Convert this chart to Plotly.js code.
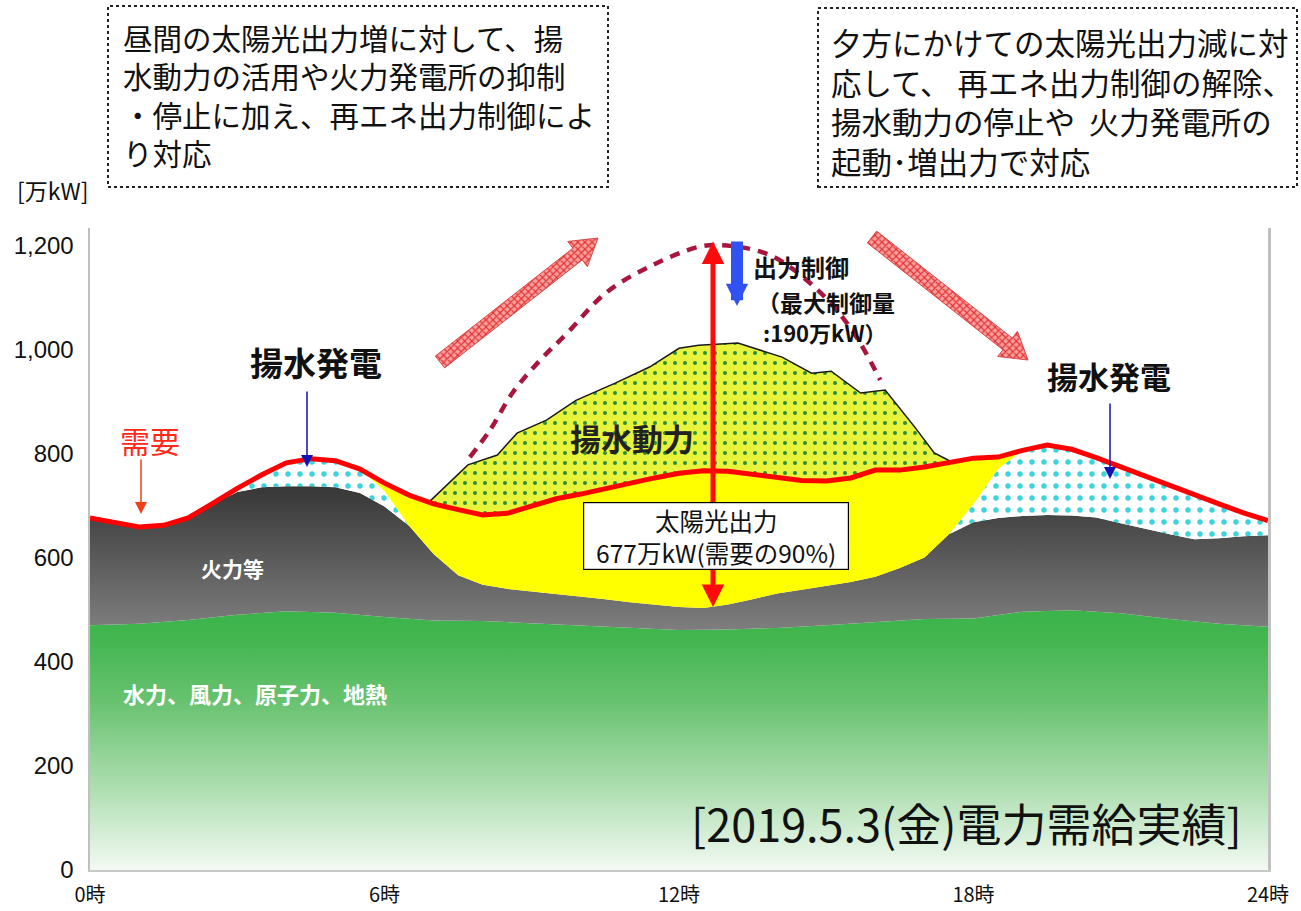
<!DOCTYPE html>
<html><head><meta charset="utf-8">
<script src="https://cdn.plot.ly/plotly-3.0.1.min.js"></script>
<style>html,body{margin:0;padding:0;background:#fff}#chart{width:1301px;height:911px}</style>
</head><body><div id="chart"></div>
<script>
// ---- data (万kW) ----
const hours = [0,0.5,1,1.5,2,2.5,3,3.5,4,4.5,5,5.5,6,6.5,7,7.5,8,8.5,9,9.5,10,10.5,11,11.5,12,12.5,13,13.5,14,14.5,15,15.5,16,16.5,17,17.5,18,18.5,19,19.5,20,20.5,21,21.5,22,22.5,23,23.5,24];
// 需要 (demand)
const demand = [676,667,659,662,676,704,733,759,782,790,786,770,743,720,703,692,682,685,698,713,722,733,743,753,762,767,766,760,755,748,747,753,768,768,774,783,791,793,806,816,808,792,774,757,737,719,703,686,671];
// top of 火力等 (thermal etc.) stack
const thermalTop = [676,667,659,662,676,703,726,735,737,737,735,724,698,661,607,566,548,540,535,531,526,520,514,510,505,503,510,520,531,538,545,553,563,580,600,645,668,676,680,682,681,677,666,655,645,635,637,641,643];
// top of 揚水発電 (pumped-storage generation) stack
const pumpGenTop = [676,667,659,662,676,704,733,759,782,790,786,770,728,661,607,566,548,540,535,531,526,520,514,510,505,503,510,520,531,538,545,553,563,580,600,645,703,770,806,816,808,792,774,757,737,719,703,686,671];
// top of 水力、風力、原子力、地熱 (base) stack
const baseHours = [0,1,2,3,4,5,6,7,8,9,10,11,12,13,14,15,16,17,18,19,20,21,22,23,24];
const baseTop = [470,473,480,490,497,494,486,479,478,474,469,465,461,462,465,470,476,482,483,496,499,493,482,473,467];
// demand + 揚水動力 (pumping load) outline
const pumpHours = [6.9,7.7,8.3,8.7,9.3,9.9,10.7,11.4,12.0,12.4,13.2,14.1,14.7,15.1,15.7,16.2,16.8,17.2,17.55];
const pumpTop = [706,778,797,839,864,902,935,966,1002,1008,1012,985,954,958,916,922,851,801,784];
// dashed curve: output before 出力制御
const curtailHours = [7.74,8.15,8.62,9.17,9.72,10.53,11.47,12.37,12.84,13.85,14.87,15.55,16.10];
const curtailValues = [793,845,918,979,1031,1110,1162,1196,1200,1181,1110,1033,941];
// ticks
const xTickVals = [0,6,12,18,24];
const xTickText = ['0時','6時','12時','18時','24時'];
const yTickVals = [0,200,400,600,800,1000,1200];
const yTickText = ['0','200','400','600','800','1,000','1,200'];

// ---- layout geometry ----
const W = 1301, H = 911;
const M = {l:90, r:33, t:228, b:41};
const PW = W - M.l - M.r, PH = H - M.t - M.b;
const XR = [0,24], YR = [0,1233];
const JP = '"Noto Sans CJK JP", "Noto Sans", sans-serif';
// pixel -> paper
const PX = p => (p - M.l) / PW;
const PY = p => (H - M.b - p) / PH;
// pixel -> data (for decorative arrow polygons)
const DX = p => XR[0] + (p - M.l) / PW * (XR[1]-XR[0]);
const DY = p => YR[0] + (H - M.b - p) / PH * (YR[1]-YR[0]);

// pump base: demand within the pumping interval
const inside = hours.map((h,i)=>i).filter(i => hours[i] > pumpHours[0] && hours[i] < pumpHours[pumpHours.length-1]);
const pumpBaseX = [pumpHours[0], ...inside.map(i=>hours[i]), pumpHours[pumpHours.length-1]];
const pumpBaseY = [pumpTop[0], ...inside.map(i=>demand[i]), pumpTop[pumpTop.length-1]];

function blockArrow(x0,y0,x1,y1,shaftW,headW,headL){
  const dx=x1-x0, dy=y1-y0, L=Math.hypot(dx,dy);
  const ux=dx/L, uy=dy/L, nx=-uy, ny=ux;
  const bx=x1-ux*headL, by=y1-uy*headL;
  const pts=[
    [x0+nx*shaftW/2, y0+ny*shaftW/2],
    [bx+nx*shaftW/2, by+ny*shaftW/2],
    [bx+nx*headW/2, by+ny*headW/2],
    [x1,y1],
    [bx-nx*headW/2, by-ny*headW/2],
    [bx-nx*shaftW/2, by-ny*shaftW/2],
    [x0-nx*shaftW/2, y0-ny*shaftW/2],
    [x0+nx*shaftW/2, y0+ny*shaftW/2]
  ];
  return {x: pts.map(p=>DX(p[0])), y: pts.map(p=>DY(p[1]))};
}
const arrL = blockArrow(440,362,598,238,15,32,26);
const arrR = blockArrow(872,237,1028,360,15,32,26);
const hatch = {shape:'x', bgcolor:'#f9a09e', fgcolor:'#e23030', size:5, solidity:0.4};

const traces = [
  {x: baseHours, y: baseTop, mode:'lines', line:{width:0}, fill:'tozeroy',
   fillgradient:{type:'vertical', start:0, stop:500,
     colorscale:[[0,'#f3faf3'],[0.34,'#a8dcab'],[0.65,'#68c270'],[0.88,'#44b651'],[1,'#3ab449']]},
   hoverinfo:'skip'},
  {x: hours, y: thermalTop, mode:'lines', line:{width:0}, fill:'tonexty',
   fillgradient:{type:'vertical', start:470, stop:740, colorscale:[[0,'#7c7c7c'],[1,'#363636']]},
   hoverinfo:'skip'},
  {x: hours, y: pumpGenTop, mode:'lines', line:{width:0}, fill:'tonexty', fillcolor:'#ffffff',
   fillpattern:{shape:'.', bgcolor:'#ffffff', fgcolor:'#3cd4dc', size:12, solidity:0.16},
   hoverinfo:'skip'},
  {x: hours, y: demand, mode:'lines', line:{width:0}, fill:'tonexty', fillcolor:'#ffff00', hoverinfo:'skip'},
  {x: pumpBaseX, y: pumpBaseY, mode:'lines', line:{width:0}, hoverinfo:'skip'},
  {x: pumpHours, y: pumpTop, mode:'lines', line:{color:'#1a1a1a', width:1.5}, fill:'tonexty', fillcolor:'#e8f43c',
   fillpattern:{shape:'.', bgcolor:'#e8f43c', fgcolor:'#2f8f34', size:10, solidity:0.13},
   hoverinfo:'skip'},
  {x: curtailHours, y: curtailValues, mode:'lines', line:{color:'#a8163e', width:4.5, dash:'10px,8px', shape:'spline'}, hoverinfo:'skip'},
  {x: hours, y: demand, mode:'lines', line:{color:'#ff0000', width:5}, hoverinfo:'skip'},
  {x: arrL.x, y: arrL.y, mode:'lines', line:{color:'#d84848', width:1}, fill:'toself', fillcolor:'#f9a09e', fillpattern:hatch, hoverinfo:'skip'},
  {x: arrR.x, y: arrR.y, mode:'lines', line:{color:'#d84848', width:1}, fill:'toself', fillcolor:'#f9a09e', fillpattern:hatch, hoverinfo:'skip'}
];

function txt(px,py,text,size,opts){
  return Object.assign({xref:'paper', yref:'paper', x:PX(px), y:PY(py), text:text, showarrow:false,
    font:{family:JP, size:size, color:'#111'}, xanchor:'center', yanchor:'middle'}, opts||{});
}
function arrow(hx,hy,tx,ty,color,width,size,extra){
  return Object.assign({xref:'paper', yref:'paper', x:PX(hx), y:PY(hy), ax:tx-hx, ay:ty-hy, axref:'pixel', ayref:'pixel',
    text:'', showarrow:true, arrowhead:2, arrowsize:size, arrowwidth:width, arrowcolor:color, standoff:0}, extra||{});
}

const annotations = [
  txt(121,14,'昼間の太陽光出力増に対して、揚<br>水動力の活用や火力発電所の抑制<br>・停止に加え、再エネ出力制御によ<br>り対応',29.5,{xanchor:'left', yanchor:'top', align:'left'}),
  txt(829,18,'夕方にかけての太陽光出力減に対<br>応して、 再エネ出力制御の解除、<br>揚水動力の停止や  火力発電所の<br>起動･増出力で対応',30.5,{xanchor:'left', yanchor:'top', align:'left'}),
  txt(52,190,'[万kW]',23),
  txt(316,362,'<b>揚水発電</b>',33),
  txt(1109,375,'<b>揚水発電</b>',31),
  txt(150,440,'需要',30,{font:{family:JP,size:30,color:'#ff2a1a'}}),
  txt(232,568,'<b>火力等</b>',21,{font:{family:JP,size:21,color:'#ffffff'}}),
  txt(255,693,'<b>水力、風力、原子力、地熱</b>',22,{font:{family:JP,size:22,color:'#ffffff'}}),
  txt(632,437,'<b>揚水動力</b>',31,{font:{family:JP,size:31,color:'#222222'}}),
  txt(801,266,'<b>出力制御</b>',24),
  txt(826,302,'<b>（最大制御量</b>',23),
  txt(825,332,'<b>:190万kW）</b>',22),
  txt(966,822,'[2019.5.3(金)電力需給実績]',45),
  arrow(307,467,307,390,'#1212b0',1.5,1.6),
  arrow(1110,479,1110,402,'#1212b0',1.5,1.6),
  arrow(141,514,141,458,'#f0401a',1.5,1.6),
  arrow(737,306,737,240,'#3152f2',12,0.37),
  arrow(713,607,713,240,'#ff0a0a',5,0.9,{arrowside:'end+start', startarrowhead:2, startarrowsize:0.9}),
  txt(716,536,'太陽光出力<br>677万kW(需要の90%)',24.5,{bgcolor:'#ffffff', bordercolor:'#000000', borderwidth:1.2, borderpad:0, width:264, height:66})
];

const shapes = [
  {type:'rect', xref:'paper', yref:'paper', x0:PX(108), x1:PX(608), y0:PY(187), y1:PY(6), line:{color:'#222', width:2, dash:'dot'}},
  {type:'rect', xref:'paper', yref:'paper', x0:PX(818), x1:PX(1297), y0:PY(187), y1:PY(8), line:{color:'#222', width:2, dash:'dot'}}
];

const layout = {
  width:W, height:H, margin:M, paper_bgcolor:'#ffffff', plot_bgcolor:'#ffffff', showlegend:false,
  font:{family:JP, color:'#111'}, hovermode:false,
  xaxis:{range:XR, tickvals:xTickVals, ticktext:xTickText, showgrid:false, zeroline:false,
    showline:true, linecolor:'#c8c8c8', linewidth:2, mirror:false, ticks:'outside', ticklen:6, tickcolor:'rgba(0,0,0,0)',
    tickfont:{family:JP, size:20, color:'#111'}, automargin:false},
  yaxis:{range:YR, tickvals:yTickVals, ticktext:yTickText, showgrid:false, zeroline:false,
    showline:true, linecolor:'#c0c0c0', linewidth:2.5, mirror:true, ticks:'outside', ticklen:9, tickcolor:'rgba(0,0,0,0)',
    tickfont:{family:'"Liberation Sans", Arial, sans-serif', size:24, color:'#111'}, automargin:false},
  annotations:annotations, shapes:shapes
};
Plotly.newPlot('chart', traces, layout, {displayModeBar:false, staticPlot:true});
</script></body></html>
